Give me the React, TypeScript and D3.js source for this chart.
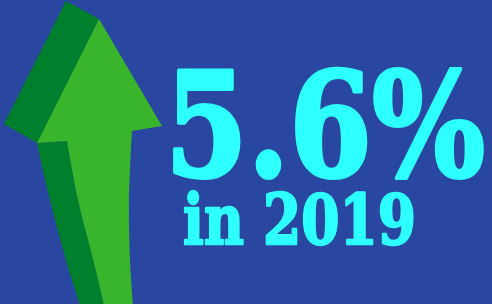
import * as d3 from "d3";

const width = 492;
const height = 304;

const headline = "5.6%";
const subline = "in 2019";

const colors = {
  background: "#2946a0",
  text: "#2effff",
  arrowLight: "#38b52a",
  arrowDark: "#007f2d",
};

// arrow outline, in picture units
const headTip: [number, number] = [99, 19];
const headBack: [number, number] = [66, 1];
const wingRight: [number, number] = [162, 126];
const wingRightInner: [number, number] = [132, 131];
const wingLeft: [number, number] = [37, 143];
const wingLeftBack: [number, number] = [4, 124];
const shaftRight: [number, number][] = [[132, 131], [129, 200], [130, 260], [133, 305]];
const shaftLightLeft: [number, number][] = [[67, 141], [78, 200], [95, 267], [104, 305]];
const shaftDarkLeft: [number, number][] = [[37, 143], [50, 200], [68, 267], [80, 305]];

const edge = d3.line().curve(d3.curveCatmullRom.alpha(0.5));

function joinPath(parts: string[]) {
  return parts.join(" ").replace(/ M/g, " L");
}

const lightPath =
  joinPath([
    `M${headTip[0]},${headTip[1]} L${wingRight[0]},${wingRight[1]} L${wingRightInner[0]},${wingRightInner[1]}`,
    edge(shaftRight) ?? "",
    edge([...shaftLightLeft].reverse()) ?? "",
  ]) + ` L${wingLeft[0]},${wingLeft[1]} Z`;

const darkHeadPath = `M${headBack[0]},${headBack[1]} L${headTip[0]},${headTip[1]} L${wingLeft[0]},${wingLeft[1]} L${wingLeftBack[0]},${wingLeftBack[1]} Z`;

const darkShaftPath =
  joinPath([edge(shaftLightLeft) ?? "", edge([...shaftDarkLeft].reverse()) ?? ""]) + " Z";

export default function App() {
  return (
    <div style={{ position: "absolute", left: 0, top: 0 }}>
      <svg width={width} height={height} viewBox={`0 0 ${width} ${height}`} style={{ display: "block" }}>
        <rect width={width} height={height} fill={colors.background} />
        <path d={darkShaftPath} fill={colors.arrowDark} />
        <path d={darkHeadPath} fill={colors.arrowDark} />
        <path d={lightPath} fill={colors.arrowLight} />
        <text
          x={165}
          y={176}
          fontFamily="'DejaVu Serif', serif"
          fontWeight="bold"
          fontSize={144}
          fill={colors.text}
          stroke={colors.text}
          strokeWidth={4}
          strokeLinejoin="round"
          textLength={320}
          lengthAdjust="spacingAndGlyphs"
        >
          {headline}
        </text>
        <text
          x={183}
          y={244}
          fontFamily="'DejaVu Serif', serif"
          fontWeight="bold"
          fontSize={70}
          fill={colors.text}
          stroke={colors.text}
          strokeWidth={2.5}
          strokeLinejoin="round"
          textLength={233}
          lengthAdjust="spacingAndGlyphs"
        >
          {subline}
        </text>
      </svg>
    </div>
  );
}
